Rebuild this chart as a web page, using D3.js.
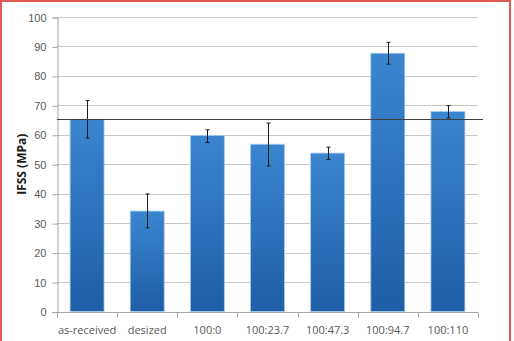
<!DOCTYPE html>
<html>
<head>
<meta charset="utf-8">
<script src="https://cdn.jsdelivr.net/npm/d3@7"></script>
<style>
  body { margin: 0; background: #fff; }
  svg { display: block; font-family: "Open Sans", "Liberation Sans", sans-serif; }
</style>
</head>
<body>
<svg id="chart" width="514" height="341"></svg>
<script>
// categories and values
var categories = ["as-received", "desized", "100:0", "100:23.7", "100:47.3", "100:94.7", "100:110"];
var ifss = [65.3, 34.1, 59.8, 56.8, 53.8, 87.7, 67.9];
var errLow = [58.9, 28.4, 57.4, 49.4, 51.6, 84.0, 65.7];
var errHigh = [71.6, 39.9, 61.7, 64.0, 55.8, 91.4, 69.9];
var refLine = 65.3;
var yTicks = [0, 10, 20, 30, 40, 50, 60, 70, 80, 90, 100];

var data = categories.map((c, i) => ({cat: c, val: ifss[i], lo: errLow[i], hi: errHigh[i]}));

var margin = {left: 57, right: 36, top: 17, bottom: 29};
var width = 514, height = 341;

var svg = d3.select("#chart");

// red frame round the picture
svg.append("rect")
    .attr("x", 1).attr("y", 1)
    .attr("width", 509).attr("height", 345)
    .attr("fill", "none")
    .attr("stroke", "#e05a55")
    .attr("stroke-width", 2);

var x = d3.scaleBand()
    .domain(categories)
    .range([margin.left, width - margin.right])
    .paddingInner(0.435)
    .paddingOuter(0.2175);

var y = d3.scaleLinear()
    .domain([0, 100])
    .range([height - margin.bottom - 0.5, margin.top]);

var defs = svg.append("defs");
var grad = defs.append("linearGradient")
    .attr("id", "barGrad")
    .attr("x1", 0).attr("y1", 0).attr("x2", 0).attr("y2", 1);
grad.append("stop").attr("offset", "0%").attr("stop-color", "#3a86cf");
grad.append("stop").attr("offset", "100%").attr("stop-color", "#1e5ea6");

// gridlines
svg.append("g")
    .selectAll("line")
    .data(yTicks.slice(1))
    .enter()
    .append("line")
    .attr("x1", margin.left)
    .attr("x2", width - margin.right)
    .attr("y1", d => Math.round(y(d)) + 0.5)
    .attr("y2", d => Math.round(y(d)) + 0.5)
    .attr("stroke", "#c8c8c8")
    .attr("stroke-width", 1);

// y axis
var yAxis = svg.append("g")
    .attr("transform", "translate(" + (margin.left + 0.5) + ",0.5)")
    .call(d3.axisLeft(y).tickValues(yTicks).tickSize(5).tickPadding(6));
yAxis.select(".domain").attr("stroke", "#a6a6a6");
yAxis.selectAll(".tick line").attr("stroke", "#a6a6a6");
yAxis.selectAll("text").attr("fill", "#595959").style("font-size", "11px");

// x axis, ticks at category boundaries
var step = x.step();
var xAxis = svg.append("g")
    .attr("transform", "translate(0," + (Math.round(y(0)) + 0.5) + ")");
xAxis.append("line")
    .attr("x1", margin.left).attr("x2", width - margin.right)
    .attr("stroke", "#a6a6a6");
xAxis.selectAll(".bnd")
    .data(d3.range(categories.length + 1))
    .enter()
    .append("line")
    .attr("x1", i => Math.round(margin.left + i * step) + 0.5)
    .attr("x2", i => Math.round(margin.left + i * step) + 0.5)
    .attr("y1", 0).attr("y2", 5)
    .attr("stroke", "#a6a6a6");
xAxis.selectAll("text")
    .data(categories)
    .enter()
    .append("text")
    .attr("x", d => x(d) + x.bandwidth() / 2)
    .attr("y", 21)
    .attr("text-anchor", "middle")
    .attr("fill", "#595959")
    .style("font-size", "11px")
    .text(d => d);

// bars
svg.append("g")
    .selectAll("rect")
    .data(data)
    .enter()
    .append("rect")
    .attr("x", d => x(d.cat))
    .attr("y", d => y(d.val))
    .attr("width", x.bandwidth())
    .attr("height", d => y(0) - y(d.val))
    .attr("fill", "url(#barGrad)")
    .attr("stroke", "#a9cbed")
    .attr("stroke-width", 0.8);

// error bars
var eb = svg.append("g").attr("stroke", "#1a1a1a").attr("stroke-width", 1);
data.forEach(d => {
    var cx = Math.round(x(d.cat) + x.bandwidth() / 2) + 0.5;
    eb.append("line").attr("x1", cx).attr("x2", cx).attr("y1", y(d.hi)).attr("y2", y(d.lo));
    eb.append("line").attr("x1", cx - 2).attr("x2", cx + 2).attr("y1", y(d.hi)).attr("y2", y(d.hi));
    eb.append("line").attr("x1", cx - 2).attr("x2", cx + 2).attr("y1", y(d.lo)).attr("y2", y(d.lo));
});

// horizontal reference line at the as-received value
svg.append("line")
    .attr("x1", margin.left)
    .attr("x2", width - margin.right + 5)
    .attr("y1", Math.round(y(refLine)) + 0.5)
    .attr("y2", Math.round(y(refLine)) + 0.5)
    .attr("stroke", "#404040")
    .attr("stroke-width", 1);

// y axis title
svg.append("text")
    .attr("transform", "translate(22," + ((y(0) + y(100)) / 2) + ") rotate(-90)")
    .attr("text-anchor", "middle")
    .attr("dy", "0.35em")
    .attr("fill", "#1a1a1a")
    .style("font-size", "12px")
    .style("font-weight", "bold")
    .text("IFSS (MPa)");
</script>
</body>
</html>
